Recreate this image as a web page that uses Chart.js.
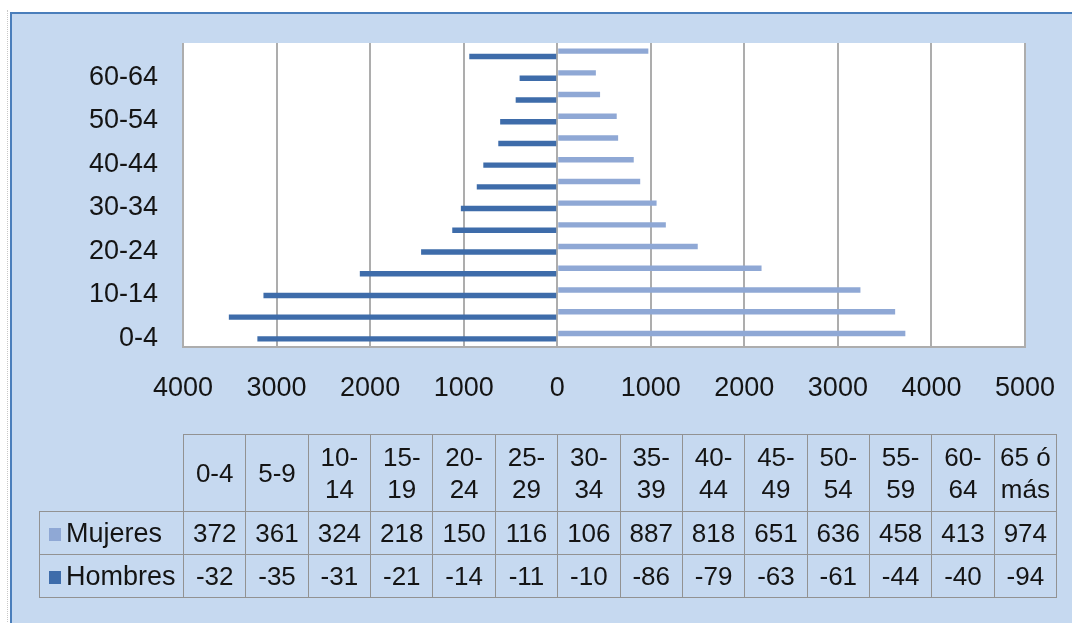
<!DOCTYPE html>
<html lang="es">
<head>
<meta charset="utf-8">
<title>Pirámide de población</title>
<script src="https://cdn.jsdelivr.net/npm/chart.js@4.4.1/dist/chart.umd.min.js"></script>
<style>
  html, body { margin: 0; padding: 0; background: #fff; width: 1072px; height: 623px; overflow: hidden;
    font-family: "Liberation Sans", Arial, sans-serif; }
  #edge { position: absolute; left: 7px; top: 10px; width: 0; height: 640px; border-left: 1px dotted #c8c8c8; }
  #frame { position: absolute; left: 10px; top: 12px; width: 1090px; height: 640px; background: #c6d9f0;
    border-top: 2px solid #4a7ebb; border-left: 2px solid #4a7ebb; }
  #chart { position: absolute; left: 0; top: 0; }
  #tabla { position: absolute; left: 39px; top: 434px; border-collapse: collapse; table-layout: fixed;
    width: 1017px; color: #141414; font-size: 26px; }
  #tabla td { border: 1px solid #929292; text-align: center; padding: 0; vertical-align: middle; }
  #tabla tr.cab td { height: 76px; line-height: 32px; }
  #tabla tr.fila td { height: 42px; line-height: 30px; }
  #tabla td.vacio { border-top: none; border-left: none; }
  #tabla td.serie { text-align: left; padding-left: 9px; white-space: nowrap; font-size: 27px; }
  .marca { display: inline-block; width: 12px; height: 13px; margin-right: 5px; position: relative; top: -1px; }
</style>
</head>
<body>
<div id="edge"></div>
<div id="frame"></div>
<canvas id="chart" width="1072" height="623"></canvas>
<table id="tabla"></table>
<script>
// Grupos de edad (de abajo hacia arriba en la pirámide)
const categorias = ['0-4', '5-9', '10-14', '15-19', '20-24', '25-29', '30-34',
  '35-39', '40-44', '45-49', '50-54', '55-59', '60-64', '65 ó más'];

// Población por grupo de edad; los hombres van en negativo para dibujarse a la izquierda
const mujeres = [3721, 3612, 3241, 2184, 1502, 1161, 1062, 887, 818, 651, 636, 458, 413, 974];
const hombres = [-3205, -3510, -3140, -2110, -1455, -1122, -1030, -860, -790, -630, -610, -444, -402, -940];

// Marcas del eje horizontal
const ejeMin = -4000;
const ejeMax = 5000;
const ejePaso = 1000;

const colorMujeres = '#8fa8d5';
const colorHombres = '#3e6caa';
const fuente = '"Liberation Sans", Arial, sans-serif';

// Fondo blanco del área de trazado
const fondoArea = {
  id: 'fondoArea',
  beforeDraw(chart) {
    const { ctx, chartArea: a } = chart;
    ctx.save();
    ctx.fillStyle = '#ffffff';
    ctx.fillRect(a.left, a.top, a.right - a.left, a.bottom - a.top);
    ctx.restore();
  }
};

new Chart(document.getElementById('chart'), {
  type: 'bar',
  data: {
    labels: categorias,
    datasets: [
      { label: 'Mujeres', data: mujeres, backgroundColor: colorMujeres,
        categoryPercentage: 0.5, barPercentage: 1.0 },
      { label: 'Hombres', data: hombres, backgroundColor: colorHombres,
        categoryPercentage: 0.5, barPercentage: 1.0 }
    ]
  },
  options: {
    indexAxis: 'y',
    responsive: false,
    animation: false,
    layout: { padding: { left: 11, top: 43, right: 47, bottom: 216 } },
    plugins: { legend: { display: false }, tooltip: { enabled: false } },
    scales: {
      x: {
        min: ejeMin, max: ejeMax,
        grid: { color: '#adadad', lineWidth: 2, drawTicks: false },
        border: { display: true, color: '#adadad', width: 2 },
        ticks: {
          stepSize: ejePaso, padding: 25, color: '#141414',
          font: { family: fuente, size: 27 },
          callback: v => String(Math.abs(v))
        },
        afterFit(scale) {
          scale.height = 60;
          // las etiquetas extremas caben en el margen, no hace falta reservar más
          scale.paddingLeft = 0;
          scale.paddingRight = 0;
        }
      },
      y: {
        reverse: true,
        grid: { display: false, drawTicks: false },
        border: { display: false },
        ticks: {
          autoSkip: false, padding: 25, labelOffset: 2, color: '#141414',
          font: { family: fuente, size: 27 },
          callback: (v, i) => (i % 2 === 0 && i < categorias.length - 1) ? categorias[i] : ''
        },
        afterFit(scale) { scale.width = 172; }
      }
    }
  },
  plugins: [fondoArea]
});

// Tabla de datos bajo el gráfico; las celdas son estrechas y solo muestran tres caracteres
const tabla = document.getElementById('tabla');
const cols = document.createElement('colgroup');
cols.innerHTML = '<col style="width:144px">' + categorias.map(() => '<col style="width:62.36px">').join('');
tabla.appendChild(cols);

const cab = document.createElement('tr');
cab.className = 'cab';
cab.innerHTML = '<td class="vacio"></td>' +
  categorias.map(c => '<td>' + c.replace('-', '-\u200B') + '</td>').join('');
tabla.appendChild(cab);

function fila(nombre, color, valores) {
  const tr = document.createElement('tr');
  tr.className = 'fila';
  tr.innerHTML = '<td class="serie"><span class="marca" style="background:' + color + '"></span>' + nombre + '</td>' +
    valores.map(v => '<td>' + String(v).slice(0, 3) + '</td>').join('');
  tabla.appendChild(tr);
}
fila('Mujeres', colorMujeres, mujeres);
fila('Hombres', colorHombres, hombres);
</script>
</body>
</html>
